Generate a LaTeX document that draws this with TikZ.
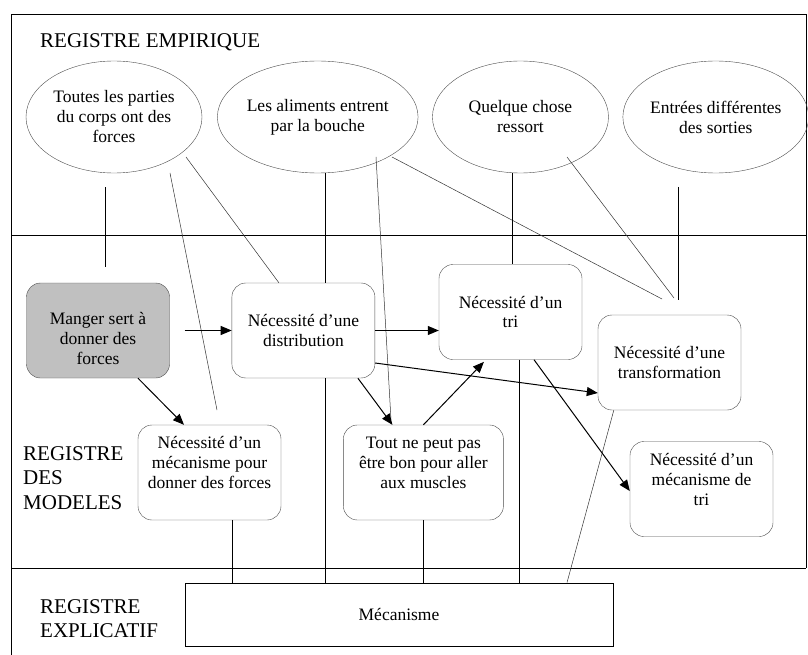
\documentclass[tikz,border=0pt]{standalone}
\usepackage{fontspec}
\setmainfont{Liberation Serif}
\usepackage{tikz}
\usetikzlibrary{arrows.meta,positioning,shapes.geometric,calc}
\definecolor{grismanger}{RGB}{192,192,192}
\newcommand{\textebox}{\fontsize{17.5}{20}\selectfont}
\newcommand{\textereg}{\fontsize{21}{24.5}\selectfont}

\begin{document}
\begin{tikzpicture}[
    x=1pt, y=-1pt,
    idee/.style={ellipse, draw=black!70, minimum width=176pt, minimum height=112pt, inner sep=0pt, align=center, font=\textebox},
    modele/.style={rectangle, draw=black!70, rounded corners=14pt, fill=white, minimum width=143pt, minimum height=95pt, inner sep=2pt, align=center, font=\textebox},
    registre/.style={inner sep=0pt, anchor=base west, align=left, font=\textereg},
    arrow/.style={-{Triangle[length=11pt,width=9pt]}, line width=1pt},
    lien/.style={line width=0.9pt},
    fin/.style={line width=0.5pt, black!80}
]
  \useasboundingbox (0,0) rectangle (808,655);

  % Frame and registers
  \draw[lien] (11,655) -- (11,14) -- (806,14) -- (806,568);
  \draw[lien] (11,235) -- (806,235);
  \draw[lien] (11,568) -- (806,568);
  \node[registre] (empirique) at (40,48) {REGISTRE EMPIRIQUE};
  \node[registre, text width=110pt] (modeles) at (23,460) {REGISTRE\\DES\\MODELES};
  \node[registre, text width=110pt] (explicatif) at (40,613) {REGISTRE\\EXPLICATIF};

  % Empirical facts
  \node[idee] (parties) at (114,117) {Toutes les parties\\du corps ont des\\forces};
  \node[idee, right=15pt of parties] (aliments) {Les aliments entrent\\par la bouche};
  \node[idee, right=14pt of aliments] (ressort) {Quelque chose\\ressort};
  \node[idee, right=14pt of ressort] (entrees) {Entrées différentes\\des sorties};

  % Models
  \node[modele, fill=grismanger] (manger) at (98,330.5) {\rule{0pt}{28pt}Manger sert à\\donner des\\forces};
  \node[modele, right=62pt of manger] (distrib) {Nécessité d’une\\distribution};
  \node[modele] (tri) at (510.5,312) {Nécessité d’un\\tri};
  \node[modele] (transfo) at (669.5,362.5) {Nécessité d’une\\transformation};
  \node[modele] (mecforces) at (209.5,472.5) {Nécessité d’un\\mécanisme pour\\donner des forces\\ \mbox{}};
  \node[modele, minimum width=160pt, right=62pt of mecforces] (muscles) {Tout ne peut pas\\être bon pour aller\\aux muscles\\ \mbox{}};
  \node[modele] (mectri) at (701.5,489) {Nécessité d’un\\mécanisme de\\tri\\ \mbox{}};

  % Explanation
  \node[rectangle, draw, line width=0.9pt, minimum width=428pt, minimum height=63pt, font=\textebox] (mecanisme) at (399,614.5) {Mécanisme};

  % Free ends
  \coordinate (p1) at (170,173);
  \coordinate (q1) at (217,410);
  \coordinate (p2) at (186,157);
  \coordinate (p3) at (376,157);
  \coordinate (q3) at (391,420);
  \coordinate (p4) at (392,157);
  \coordinate (k1) at (662,299);
  \coordinate (p5) at (567,157);
  \coordinate (k2) at (674,298);
  \coordinate (p6) at (678,187);
  \coordinate (k3) at (678,300);

  % Links between registers
  \draw[lien, shorten <=14pt, shorten >=16pt] ([xshift=-9pt]parties.south) -- ([xshift=-9pt]parties.south |- manger.north);
  \draw[fin] (p1) -- (q1);
  \draw[fin] (p2) -- ([xshift=-24.5pt]distrib.north);
  \draw[lien] ([xshift=8pt]aliments.south) -- ([xshift=8pt]aliments.south |- distrib.north)
              ([xshift=8pt]aliments.south |- distrib.south) -- ([xshift=8pt]aliments.south |- mecanisme.north);
  \draw[fin] (p3) -- (q3);
  \draw[fin] (p4) -- (k1);
  \draw[lien] ([xshift=-8pt]ressort.south) -- ([xshift=-8pt]ressort.south |- tri.north);
  \draw[fin] (p5) -- (k2);
  \draw[lien] (p6) -- (k3);
  \draw[fin] ([xshift=16pt]transfo.south west) -- ([xshift=168pt]mecanisme.north);
  \draw[lien] ([xshift=22.5pt]mecforces.south) -- ([xshift=22.5pt]mecforces.south |- mecanisme.north);
  \draw[lien] (muscles.south) -- (muscles.south |- mecanisme.north);
  \draw[lien] ([xshift=8.5pt]tri.south) -- ([xshift=8.5pt]tri.south |- mecanisme.north);

  % Arrows
  \draw[arrow, shorten <=15pt] (manger.east) -- (distrib.west);
  \draw[arrow] ([xshift=40pt]manger.south) -- ([xshift=-25.5pt]mecforces.north);
  \draw[arrow] (distrib.east) -- (distrib.east -| tri.west);
  \draw[arrow] ([yshift=-32.5pt]distrib.east) -- ([yshift=-30.5pt]transfo.west);
  \draw[arrow] ([xshift=54.5pt]distrib.south) -- ([xshift=-31pt]muscles.north);
  \draw[arrow, shorten >=3pt] (muscles.north) -- ([xshift=-24.5pt]tri.south);
  \draw[arrow] ([xshift=23.5pt]tri.south) -- ([yshift=-2pt]mectri.west);
\end{tikzpicture}
\end{document}
